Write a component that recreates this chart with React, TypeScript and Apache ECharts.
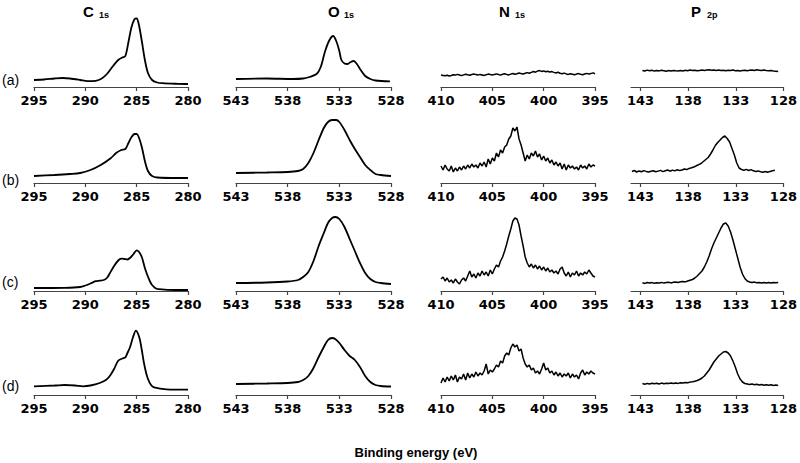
import React, { useEffect, useRef } from "react";
import * as echarts from "echarts";

// ---------- DATA (intensity in arbitrary units vs binding energy, eV) ----------
const ROW_LABELS = ["(a)", "(b)", "(c)", "(d)"];
const PANEL_TITLES = [
  { el: "C", sub: "1s" },
  { el: "O", sub: "1s" },
  { el: "N", sub: "1s" },
  { el: "P", sub: "2p" },
];
const X_TITLE = "Binding energy (eV)";
const X_RANGES = [
  { min: 280, max: 295 },
  { min: 528, max: 543 },
  { min: 395, max: 410 },
  { min: 128, max: 144 },
];

// C 1s — [eV, intensity]
const C1S_A = [[295,7],[294,7.5],[293,8.5],[292.2,9],[291.5,8.5],[290.5,7],[289.8,5.8],[289,6.2],[288.4,8.5],[287.9,13],[287.3,21],[286.8,27],[286.4,29.5],[286.1,31],[285.8,45],[285.5,60],[285.2,68],[285.0,68.5],[284.8,63],[284.5,46],[284.2,27],[283.9,14],[283.5,7],[283,4.5],[282.5,3.8],[281,3.2],[280,3]];
const C1S_B = [[295,7],[293,8],[291.5,9],[290.5,10],[289.5,13],[288.5,18],[287.5,25],[287,30],[286.5,33],[286.1,34],[285.8,40],[285.5,46],[285.2,49],[285,49],[284.8,46],[284.5,36],[284.2,22],[283.9,12],[283.5,7],[283,5.5],[281,5],[280,5]];
const C1S_C = [[295,3],[292,3.2],[290.5,4],[290,5.5],[289.5,7.5],[289,9.8],[288.6,10.3],[288.2,11],[287.9,13],[287.6,18],[287.2,25],[286.8,30.5],[286.5,32.3],[286.2,32],[285.9,31.5],[285.6,33.5],[285.3,37],[285.0,40.7],[284.8,39.5],[284.5,34],[284.2,23],[284.0,17],[283.7,9.5],[283.5,6],[283.2,3],[282.9,1.8],[282,1.2],[280,1]];
const C1S_D = [[295,8.7],[293,9.5],[292,10],[291,9.5],[290.2,8.7],[289.5,9.5],[288.6,12],[288,15],[287.6,19.3],[287.2,26],[286.8,34.3],[286.4,36.5],[286.1,37.7],[285.9,42],[285.65,47.7],[285.35,58],[285.07,64.3],[284.9,62],[284.7,56],[284.5,45],[284.3,32.7],[284.1,23],[283.9,16],[283.6,10],[283.3,7.7],[282.1,5.7],[280,5.3]];

// O 1s — [eV, intensity]
const O1S_A = [[543,8],[540,8.5],[537.5,8],[536.5,8.5],[535.9,10],[535.2,13],[534.8,20],[534.4,35],[534.0,46],[533.6,51],[533.3,46],[533.0,36],[532.8,27],[532.5,23.5],[532.2,23],[531.9,25],[531.6,26],[531.3,23],[531.0,18],[530.5,11],[530,8],[529.5,6.5],[528.1,5.7]];
const O1S_B = [[543,10],[540,10.5],[538,11],[537,12],[536.5,14],[536,20],[535.5,30],[535,43],[534.5,55],[534.1,61],[533.7,63],[533.3,63],[533,61],[532.5,53],[532,43],[531.5,34],[531,26],[530.5,18],[530,13],[529.5,9],[529,8],[528,7]];
const O1S_C = [[543,8],[540,8.5],[538,9.5],[537,11],[536.5,14],[536,19],[535.5,30],[535,45],[534.5,58],[534.1,68],[533.7,73],[533.4,74],[533,72],[532.5,64],[532,52],[531.5,40],[531,28],[530.5,18],[530,12],[529.5,9],[529,8],[528,7]];
const O1S_D = [[543,11],[540,11.5],[538,12],[537,13],[536.5,15],[536,19],[535.5,27],[535,38],[534.5,48],[534.1,55],[533.7,57],[533.4,56],[533,52],[532.5,45],[532,39],[531.5,35],[531,28],[530.5,19],[530,13],[529.5,10],[529,9],[528,8.5]];

// N 1s — intensities from 410 eV downward in 0.2 eV steps
const N1S_START = 410;
const N1S_STEP = 0.2;
const N1S_A = [12.0,11.6,11.2,11.8,11.0,11.5,12.2,11.9,12.6,12.0,11.4,12.1,12.8,12.2,11.7,12.5,13.0,12.4,11.9,12.6,12.1,11.6,12.3,12.9,12.4,12.0,12.6,13.1,12.5,11.9,12.7,13.2,12.6,12.1,12.9,13.5,12.8,13.3,14.0,13.4,12.9,13.8,14.4,13.7,14.6,15.5,14.8,15.9,16.4,15.6,16.1,15.2,15.8,14.9,15.4,14.6,14.0,14.7,13.8,13.2,13.9,13.1,12.6,13.3,12.8,12.2,12.9,13.4,12.7,12.3,13.0,13.6,12.9,13.4,14.1,13.2];
const N1S_B = [17,13,18,14,12,17,11,15,12,16,13,17,14,18,15,19,16,18,15,20,17,21,16,24,19,25,22,30,26,33,30,36,38,44,47,55,52,56,44,38,30,22,28,24,30,27,32,26,29,23,27,22,25,20,23,18,21,17,20,14,19,13,18,15,17,14,16,13,18,15,17,14,19,16,18,17];
const N1S_C = [12,14,10,13,9,11,8,12,9,7,11,13,10,15,20,14,17,13,18,15,20,16,19,15,21,17,22,26,24,30,34,40,47,55,62,70,73,72,66,55,45,34,28,24,27,23,26,22,25,21,24,20,23,19,21,18,20,17,22,24,18,15,19,14,18,16,20,15,18,16,19,17,21,18,15,14];
const N1S_D = [12,17,13,18,14,19,15,20,13,18,16,21,15,22,17,21,18,23,19,22,20,24,31,21,25,23,26,30,28,34,32,39,42,40,47,51,48,50,44,46,37,31,28,30,25,27,22,24,21,26,32,25,27,22,24,20,23,19,22,18,21,19,22,17,21,18,20,16,22,25,20,23,21,24,22,21];

// P 2p — intensities downward in 0.25 eV steps from the given start
const P2P_STEP = 0.25;
const P2P_A_START = 142.8;
const P2P_A = [16.6,16.0,16.9,16.2,16.7,15.9,16.5,16.1,16.8,16.3,15.8,16.4,16.0,16.6,16.2,15.9,16.5,16.1,16.7,16.3,16.9,16.4,16.8,16.2,16.6,17.0,16.5,16.9,17.3,16.7,17.1,16.6,17.0,16.5,16.8,16.2,16.7,16.4,16.9,16.3,16.6,16.1,16.5,16.8,16.3,16.7,17.1,16.6,17.2,16.8,16.4,16.9,16.5,16.2,16.6,16.0,15.8,15.6];
const P2P_B_START = 143.9;
const P2P_B = [11.5,12.5,11.0,12.0,11.3,12.4,11.6,11.0,11.8,12.3,11.2,11.9,12.6,11.4,12.2,13.0,11.8,12.9,12.1,13.3,12.4,13.0,14.0,13.4,14.6,15.2,16.0,17.2,18.3,19.5,21.5,23.5,25.5,29.0,33.0,37.5,40.5,43.0,45.5,47.0,44.5,41.0,34.5,28.0,20.0,15.0,13.5,12.8,13.6,12.5,13.4,12.2,11.6,12.1,11.2,10.8,11.5,10.7,11.6,12.2,12.8];
const P2P_C_START = 142.8;
const P2P_C = [8.2,7.6,8.5,7.9,8.4,7.7,8.3,8.0,8.6,7.9,8.4,8.8,8.1,8.7,9.0,8.5,9.2,9.6,9.1,10.0,10.8,11.5,13.0,15.0,17.5,20.0,24.0,29.0,35.0,42.0,48.0,53.0,58.0,63.0,67.0,68.0,65.0,59.0,51.0,42.0,33.0,24.0,17.0,12.5,10.0,9.0,8.4,8.9,8.2,8.6,8.0,8.5,7.9,8.4,8.0,8.6,8.2,8.5];
const P2P_D_START = 142.8;
const P2P_D = [11.5,10.8,11.6,11.0,11.8,11.2,11.7,11.0,11.9,11.3,11.8,11.4,12.0,11.5,12.1,11.6,12.3,12.0,12.6,12.2,12.9,13.2,13.8,14.5,15.5,17.0,19.0,22.0,25.0,29.0,33.0,36.0,39.0,41.0,43.0,43.5,42.0,39.0,34.0,28.0,21.0,16.0,13.0,11.5,11.0,10.5,11.0,10.2,10.7,10.0,10.5,9.8,10.3,9.7,10.2,9.6,10.0,9.5];

// ---------- LAYOUT ----------
const COLS = [
  { left: 34, width: 154 },
  { left: 236, width: 155 },
  { left: 441, width: 154 },
  { left: 631, width: 155 },
];
const AXIS_Y = [87, 183, 291, 395];
const ROW_LABEL_Y = [80, 180, 282, 386];
const PANEL_H = 80;
const TITLE_X = [83, 328, 499, 691];

const stepSeries = (start: number, step: number, vals: number[]) =>
  vals.map((v, i) => [+(start - i * step).toFixed(3), v]);

const SPECTRA: { data: number[][]; smooth: boolean }[][] = [
  [
    { data: C1S_A, smooth: true },
    { data: O1S_A, smooth: true },
    { data: stepSeries(N1S_START, N1S_STEP, N1S_A), smooth: false },
    { data: stepSeries(P2P_A_START, P2P_STEP, P2P_A), smooth: false },
  ],
  [
    { data: C1S_B, smooth: true },
    { data: O1S_B, smooth: true },
    { data: stepSeries(N1S_START, N1S_STEP, N1S_B), smooth: false },
    { data: stepSeries(P2P_B_START, P2P_STEP, P2P_B), smooth: false },
  ],
  [
    { data: C1S_C, smooth: true },
    { data: O1S_C, smooth: true },
    { data: stepSeries(N1S_START, N1S_STEP, N1S_C), smooth: false },
    { data: stepSeries(P2P_C_START, P2P_STEP, P2P_C), smooth: false },
  ],
  [
    { data: C1S_D, smooth: true },
    { data: O1S_D, smooth: true },
    { data: stepSeries(N1S_START, N1S_STEP, N1S_D), smooth: false },
    { data: stepSeries(P2P_D_START, P2P_STEP, P2P_D), smooth: false },
  ],
];

export default function App() {
  const ref = useRef<HTMLDivElement>(null);

  useEffect(() => {
    document.body.style.margin = "0";
    if (!ref.current) return;
    const chart = echarts.init(ref.current, null, { renderer: "svg" });

    const grid: any[] = [];
    const xAxis: any[] = [];
    const yAxis: any[] = [];
    const series: any[] = [];

    for (let r = 0; r < 4; r++) {
      for (let c = 0; c < 4; c++) {
        const idx = r * 4 + c;
        grid.push({
          left: COLS[c].left,
          width: COLS[c].width,
          top: AXIS_Y[r] - PANEL_H,
          height: PANEL_H,
        });
        xAxis.push({
          type: "value",
          gridIndex: idx,
          min: X_RANGES[c].min,
          max: X_RANGES[c].max,
          interval: 5,
          inverse: true,
          splitLine: { show: false },
          axisLine: { show: true, onZero: false, lineStyle: { color: "#444", width: 1.2 } },
          axisTick: { show: true, length: 4, lineStyle: { color: "#444", width: 1.2 } },
          axisLabel: {
            showMaxLabel: c === 3 ? false : true,
            color: "#000",
            fontFamily: "DejaVu Sans",
            fontWeight: "bold",
            fontSize: 13,
            margin: 7,
          },
        });
        yAxis.push({ type: "value", gridIndex: idx, min: 0, max: PANEL_H, show: false });
        const sp = SPECTRA[r][c];
        series.push({
          type: "line",
          xAxisIndex: idx,
          yAxisIndex: idx,
          data: sp.data,
          showSymbol: false,
          smooth: sp.smooth ? 0.3 : false,
          lineStyle: { color: "#000", width: sp.smooth ? 1.8 : 1.5 },
          silent: true,
        });
      }
    }

    const graphic: any[] = [];
    ROW_LABELS.forEach((t, r) => {
      graphic.push({
        type: "text",
        x: 2,
        y: ROW_LABEL_Y[r],
        style: { text: t, font: '14px "Liberation Sans"', fill: "#000", align: "left", verticalAlign: "middle" },
      });
    });
    PANEL_TITLES.forEach((t, c) => {
      graphic.push({
        type: "text",
        x: TITLE_X[c],
        y: 11,
        style: { text: t.el, font: 'bold 15px "Liberation Sans"', fill: "#000", align: "left", verticalAlign: "middle" },
      });
      graphic.push({
        type: "text",
        x: TITLE_X[c] + 16,
        y: 14.5,
        style: { text: t.sub, font: 'bold 9px "Liberation Sans"', fill: "#000", align: "left", verticalAlign: "middle" },
      });
    });
    graphic.push({
      type: "text",
      x: 416,
      y: 452,
      style: { text: X_TITLE, font: 'bold 13px "Liberation Sans"', fill: "#000", align: "center", verticalAlign: "middle" },
    });

    chart.setOption({
      animation: false,
      backgroundColor: "#fff",
      grid,
      xAxis,
      yAxis,
      series,
      graphic,
    });

    return () => chart.dispose();
  }, []);

  return <div ref={ref} style={{ width: 800, height: 463 }} />;
}
